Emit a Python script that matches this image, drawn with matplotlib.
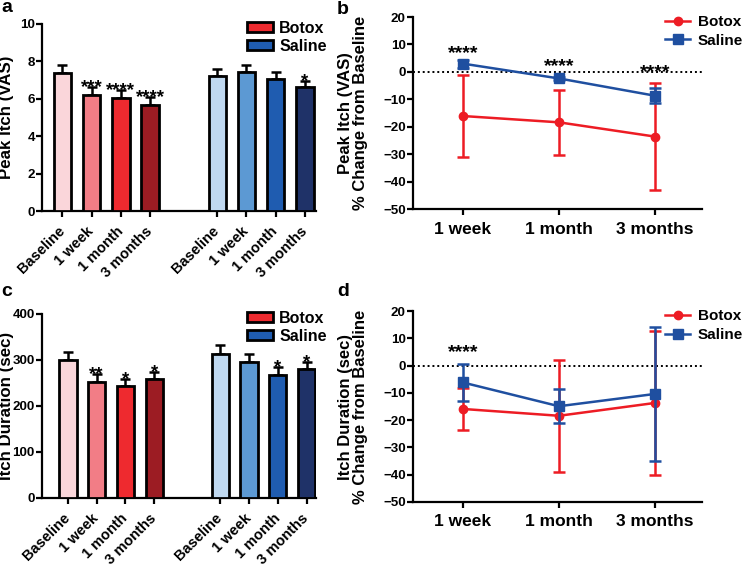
import matplotlib
matplotlib.use("Agg")
import matplotlib.pyplot as plt
from matplotlib.patches import Patch
from matplotlib.lines import Line2D
import numpy as np

plt.rcParams['font.family'] = ['Liberation Sans', 'DejaVu Sans']
plt.rcParams['font.weight'] = 'bold'

# ---------------- data ----------------
bar_labels = ["Baseline", "1 week", "1 month", "3 months"]
time_labels = ["1 week", "1 month", "3 months"]

# Panel a: Peak itch (VAS)
a_botox = [7.40, 6.19, 6.03, 5.65]
a_botox_err = [0.39, 0.44, 0.44, 0.43]
a_saline = [7.22, 7.41, 7.06, 6.63]
a_saline_err = [0.37, 0.38, 0.35, 0.34]
a_botox_sig = ["", "***", "****", "****"]
a_saline_sig = ["", "", "", "*"]

# Panel b: % change peak itch
b_botox = [-16.1, -18.4, -23.6]
b_botox_err = [15.0, 11.8, 19.6]
b_saline = [3.0, -2.4, -8.7]
b_saline_err = [1.5, 0.5, 2.8]
b_sig = ["****", "****", "****"]

# Panel c: Itch duration (sec)
c_botox = [299.5, 251.7, 243.0, 259.0]
c_botox_err = [18.5, 18.1, 16.0, 14.4]
c_saline = [314.0, 296.0, 267.0, 281.4]
c_saline_err = [19.5, 17.0, 17.0, 14.6]
c_botox_sig = ["", "**", "*", "*"]
c_saline_sig = ["", "", "*", "*"]

# Panel d: % change itch duration
d_botox = [-15.9, -18.4, -13.7]
d_botox_err = [7.7, 20.5, 26.4]
d_saline = [-6.2, -14.9, -10.4]
d_saline_err = [6.9, 6.2, 24.4]
d_sig = ["****", "", ""]

botox_colors = ['#fad6da', '#f27d86', '#ee2a2f', '#9c1c23']
saline_colors = ['#bfd8f0', '#5c99d3', '#1f5cb0', '#1f3268']
red = '#ed1c24'
blue = '#1f4fa0'

W, H = 743, 566
fig = plt.figure(figsize=(W / 100, H / 100), dpi=100)


def ax_px(l, r, t, b):
    return fig.add_axes([l / W, 1 - b / H, (r - l) / W, (b - t) / H])


LW = 1.6
YTICKFS = 9.6


def style(ax):
    for s in ['top', 'right']:
        ax.spines[s].set_visible(False)
    for s in ['left', 'bottom']:
        ax.spines[s].set_linewidth(LW)
    ax.tick_params(width=LW, length=4)
    ax.tick_params(axis='y', labelsize=YTICKFS, pad=1.2)


def star(ax, x, y, s, fs):
    ax.annotate(s, xy=(x, y), xytext=(0, -0.58 * fs), textcoords='offset points',
                ha='center', va='baseline', fontsize=fs, fontweight='bold',
                annotation_clip=False)


def bar_panel(ax, bot, bot_err, sal, sal_err, bsig, ssig, ymax, ystep, ylabel, xlim, star_offset):
    style(ax)
    pos_b = np.arange(4)
    pos_s = np.arange(4) + 5.3
    ax.bar(pos_b, bot, width=0.6, color=botox_colors, edgecolor='black', linewidth=2, zorder=3)
    ax.bar(pos_s, sal, width=0.6, color=saline_colors, edgecolor='black', linewidth=2, zorder=3)
    ax.errorbar(pos_b, bot, yerr=[np.zeros(4), bot_err], fmt='none', ecolor='black',
                elinewidth=1.8, capsize=3.5, capthick=1.8, zorder=2)
    ax.errorbar(pos_s, sal, yerr=[np.zeros(4), sal_err], fmt='none', ecolor='black',
                elinewidth=1.8, capsize=3.5, capthick=1.8, zorder=2)
    ax.set_xlim(*xlim)
    ax.set_ylim(0, ymax)
    ax.set_yticks(np.arange(0, ymax + 0.001, ystep))
    ax.set_yticklabels([f"{int(v)}" for v in np.arange(0, ymax + 0.001, ystep)],
                       fontsize=YTICKFS, fontweight='bold')
    ax.set_xticks(list(pos_b) + list(pos_s))
    ax.set_xticklabels(bar_labels + bar_labels, rotation=45, ha='right', va='center',
                       rotation_mode='anchor', fontsize=10.5, fontweight='bold')
    ax.tick_params(axis='x', pad=9)
    ax.set_ylabel(ylabel, fontsize=12.2, fontweight='bold')
    ax.yaxis.set_label_coords(-0.103, 0.5)
    for x, v, e, s in zip(pos_b, bot, bot_err, bsig):
        if s:
            star(ax, x, v + e + star_offset, s, 13.5)
    for x, v, e, s in zip(pos_s, sal, sal_err, ssig):
        if s:
            star(ax, x, v + e + star_offset, s, 13.5)
    ax.legend(handles=[Patch(facecolor=botox_colors[2], edgecolor='black', linewidth=2, label='Botox'),
                       Patch(facecolor=saline_colors[2], edgecolor='black', linewidth=2, label='Saline')],
              loc='upper left', bbox_to_anchor=(0.737, 1.035), frameon=False, borderaxespad=0,
              prop={'size': 11.5, 'weight': 'bold'}, handlelength=1.6, handleheight=0.65,
              handletextpad=0.4, labelspacing=0.18, borderpad=0.2)


def line_panel(ax, bot, bot_err, sal, sal_err, sig, sig_y, ylabel):
    style(ax)
    x = np.arange(3)
    ax.axhline(0, color='black', linestyle=(0, (1, 1.5)), linewidth=1.4, zorder=1)
    ax.errorbar(x, bot, yerr=bot_err, color=red, marker='o', markersize=6, linewidth=1.8,
                elinewidth=1.8, capsize=4, capthick=1.8, zorder=3)
    ax.errorbar(x, sal, yerr=sal_err, color=blue, marker='s', markersize=6.5, linewidth=1.8,
                elinewidth=1.8, capsize=4, capthick=1.8, zorder=4)
    ax.set_xlim(-0.52, 2.49)
    ax.set_ylim(-50, 20)
    yt = np.arange(-50, 21, 10)
    ax.set_yticks(yt)
    ax.set_yticklabels([f"{v}".replace("-", "\u2212") for v in yt], fontsize=YTICKFS, fontweight='bold')
    ax.set_xticks(x)
    ax.set_xticklabels(time_labels, fontsize=12.5, fontweight='bold')
    ax.tick_params(axis='x', pad=5)
    ax.set_ylabel(ylabel, fontsize=12, fontweight='bold', linespacing=1.05)
    ax.yaxis.set_label_coords(-0.155, 0.5)
    for xi, s, yv in zip(x, sig, sig_y):
        if s:
            star(ax, xi, yv, s, 14)
    ax.legend(handles=[Line2D([], [], color=red, marker='o', markersize=6, linewidth=1.8, label='Botox'),
                       Line2D([], [], color=blue, marker='s', markersize=6.5, linewidth=1.8, label='Saline')],
              loc='upper left', bbox_to_anchor=(0.862, 1.025), frameon=False, borderaxespad=0,
              prop={'size': 11, 'weight': 'bold'}, handlelength=1.63,
              handletextpad=0.5, labelspacing=0.3, borderpad=0.2)


ax_a = ax_px(42, 316, 24, 211)
bar_panel(ax_a, a_botox, a_botox_err, a_saline, a_saline_err, a_botox_sig, a_saline_sig,
          10, 2, "Peak Itch (VAS)", (-0.70, 8.68), 0.3)

ax_b = ax_px(413, 702, 17, 209)
line_panel(ax_b, b_botox, b_botox_err, b_saline, b_saline_err, b_sig, [9.3, 4.3, 2.1],
           "Peak Itch (VAS)\n% Change from Baseline")

ax_c = ax_px(42, 316, 314, 498)
bar_panel(ax_c, c_botox, c_botox_err, c_saline, c_saline_err, c_botox_sig, c_saline_sig,
          400, 100, "Itch Duration (sec)", (-0.90, 8.63), 13)

ax_d = ax_px(413, 702, 311, 502)
line_panel(ax_d, d_botox, d_botox_err, d_saline, d_saline_err, d_sig, [7.3, 0, 0],
           "Itch Duration (sec)\n% Change from Baseline")

for lab, (x, y) in zip("abcd", [(1, 8), (337, 9), (1, 291), (337, 291)]):
    fig.text(x / W, 1 - y / H, lab, fontsize=14, fontweight='bold', va='center', ha='left')

fig.savefig("out.png", dpi=100)
